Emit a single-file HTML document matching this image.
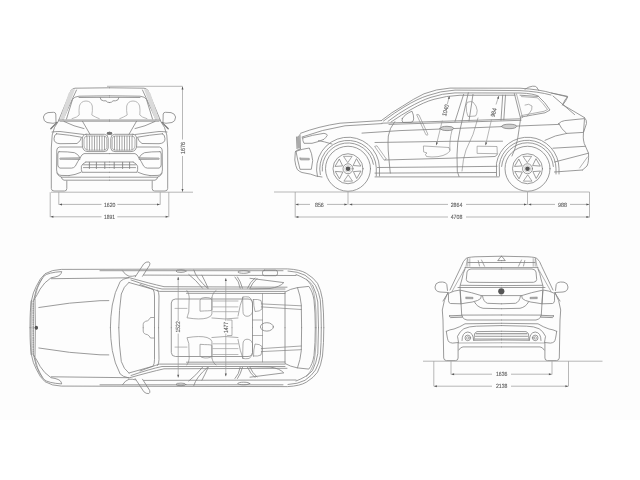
<!DOCTYPE html>
<html><head><meta charset="utf-8">
<style>
html,body{margin:0;padding:0;background:#fff;width:640px;height:480px;overflow:hidden}
svg{display:block}
.l{fill:none;stroke:#828282;stroke-width:0.8;stroke-linejoin:round;stroke-linecap:round}
.d{fill:none;stroke:#9a9a9a;stroke-width:0.7}
.t{font-family:"Liberation Sans",sans-serif;font-size:6px;fill:#555;stroke:#666;stroke-width:0.12;text-rendering:geometricPrecision}
</style></head><body>
<svg width="640" height="480" viewBox="0 0 640 480">
<defs>
<marker id="ar" markerWidth="4" markerHeight="3" refX="2.8" refY="1" orient="auto-start-reverse" markerUnits="userSpaceOnUse" overflow="visible"><path d="M0,0 L2.8,1 L0,2z" fill="#555"/></marker>
</defs>

<rect x="0" y="60" width="640" height="360" fill="#fdfdfd"/>
<!-- ===== FRONT VIEW ===== -->
<g id="frontL" class="l">
  <!-- roof + A pillar -->
  <path d="M109.5,87.8 L75,88.2 Q72,88.6 71,90.5 L58.6,120.5"/>
  <path d="M76.5,90 L63,119.5"/>
  <polygon points="68.5,93.5 71.5,89.5 75,89.2 64,119.5 59.8,119.5" fill="#dadada" stroke="none"/>
  <!-- windshield inner -->
  <path d="M109.5,95.8 L79,96.2 Q74,96.6 72.5,99.5 L66.5,119"/>
  <path d="M109.5,97.3 L79,97.5"/>
  <!-- rear view mirror -->
  <path d="M100,97.5 Q100.5,100.8 103.5,100.8 L106,100.8 Q107,102.6 109.5,102.6"/>
  <!-- cowl -->
  <path d="M59,120 L109.5,120"/>
  <path d="M60,121.2 L109.5,121.2"/>
  <!-- head -->
  <path d="M72,118.7 Q77.5,117.2 79.2,115 Q78.7,110 79.4,106 Q81,101 86,101 Q91,101 92.3,106 Q92.7,111 91.8,115 Q95,117 99.3,118.7" stroke="#a8a8a8"/>
  <!-- mirror -->
  <path d="M57.5,122.3 L56,122.5 L55.8,114 Q55.5,112.3 53.5,112.3 L48,112.6 Q44,113.5 43.4,117 Q43.5,121.5 47,122.5 L53,123.3 Q55,123 56,122.5"/>
  <path d="M50.8,128.8 L56.8,122.6" stroke-width="1.3" stroke="#777"/>
  <!-- hood lines -->
  <path d="M64,121.5 Q74,126.5 84,128.6"/>
  <path d="M82.5,121.3 L90,134.3"/>
  <!-- body side -->
  <path d="M58.8,120.5 Q53.5,127 52.2,135 L51.3,148 L51.3,188.5 Q51.5,191 54,191 L64.5,191 Q66.8,191 66.8,188.5 L66.8,181"/>
  <path d="M52,132 Q56,131.5 60,131.5 L84,134.5"/>
  <!-- headlight -->
  <path d="M56.5,133.8 Q70,135 81.5,137.2 Q81,141 77,143.5 L60,143.7 Q54,143.4 54,138.7 Q54.2,134.3 56.5,133.8 Z"/>
  <!-- kidney -->
  <path d="M86,134.3 L104.5,134.3 Q108.2,134.5 108.2,138.5 L108.2,148 Q108,151.6 104,151.6 L88,151.6 Q82.4,151.4 82.3,145 L82.3,139 Q82.5,134.5 86,134.3 Z"/>
  <path d="M86.5,136 L104,136 Q106.8,136.2 106.8,139 L106.8,147.5 Q106.6,150.2 103.5,150.2 L88.5,150.2 Q84,150 84,145 L84,139.5 Q84.2,136.2 86.5,136 Z" stroke-width="0.6"/>
  <path d="M87,136.5 V149.8 M89.5,136.3 V150 M92,136.2 V150.1 M94.5,136.2 V150.1 M97,136.2 V150.1 M99.5,136.2 V150.1 M102,136.2 V150.1 M104.5,136.4 V149.8" stroke-width="0.7"/>
  <!-- logo -->
  <ellipse cx="109.5" cy="133.3" rx="2.8" ry="1.5" fill="#777" stroke="none"/>
  <!-- bumper outer -->
  <path d="M82,147 L59.5,147 Q57,147.5 56.8,150 L56.6,170 Q57,175 61,175.4 L69,175.6"/>
  <path d="M109.5,153.6 L84,153.6 Q82,154 80,157.8"/>
  <!-- fog light -->
  <path d="M59,151.7 Q68,151.6 74.5,152.7 Q78,154 80,157.8 Q78,161 75.3,166.2 Q73.8,168 71.6,168.1 L60,168.1 Q58,167.5 57.8,165 L57.8,154 Q58,152 59,151.7 Z"/>
  <path d="M60,158.2 Q59,158.7 60,159.3 L80,159.5 L80,158 Z" fill="#bbb" stroke-width="0.6"/>
  <!-- lower grille -->
  <path d="M85.8,162 L109.5,162"/>
  <path d="M83.5,164.8 L109.5,164.8"/>
  <path d="M83.5,167.6 L109.5,167.6"/>
  <path d="M85.8,162 Q82,164 81.4,166.2 Q81,170 82,172.3 L109.5,172.3"/>
  <path d="M89.4,162.3 V168.5 M96.4,162.3 V168.5 M104.8,162.3 V168.5" stroke-width="0.9"/>
  <!-- bottom bumper -->
  <path d="M69,175.6 Q75,175 81,172.3"/>
  <path d="M56.8,173 Q58,176 61.3,177.2 L109.5,177.2"/>
  <path d="M61.3,177.2 Q61.8,179.8 64,180.2 L109.5,180.2"/>
</g>
<use href="#frontL" transform="translate(219,0) scale(-1,1)"/>


<!-- ===== SIDE VIEW ===== -->
<g class="l">
  <!-- roof -->
  <path d="M381.3,120.6 Q392,112 402.5,106.2 Q414,98.5 424,93.8 Q436,89 450,88.1 L520,88.2 Q540,89.5 551.5,93 L567.5,96.3 Q566.5,98.5 565,100 L562.5,105"/>
  <path d="M383.5,121 Q395,112.5 404,107 Q418,98.5 428,95.5 Q440,91 455,90.1 L520,90.6 Q538,91.5 551,95"/>
  <path d="M388,121.3 Q399,113 408,108 Q421,100.5 431,97.3 Q442,93.5 455,92.9 L520,93 Q534,93.5 538.8,96.3"/>
  <path d="M391,122 Q402,114.5 411,109.5 Q424,102 434,99.3 Q446,95.8 460,95.25 L515,95.2"/>
  <!-- antenna -->
  <path d="M525,89.2 Q529,86.5 532.5,86.2 Q536,86 536.5,87 L538.8,90.5"/>
  <!-- hatch glass / rear -->
  <path d="M551.3,93 L567.7,96.9 Q566,101 562.8,104.8"/>
  <path d="M553,96 L574.6,114.6 M562.8,104.8 L584.5,117.6"/>
  <path d="M584.5,117.6 Q587,120 586.5,123.5 L583.5,132.4 Q583,138 583.5,140 Q584,144 585.5,146.3 L588.5,153.2 Q589,162 587,166 L582.5,170"/>
  <!-- quarter window -->
  <path d="M520,95.2 L538.5,96.5 Q545,102 550,110 L545,112.8 Q532,115 520.5,117.2"/>
  <path d="M521.5,96.6 L537.5,97.8 Q543,103 547.5,109.5 L544,111.3 Q532,113.5 521.8,115.5" stroke-width="0.6"/>
  <!-- taillight -->
  <path d="M558.8,123.5 Q561,121 564.8,120.6 L584.5,118.6 L583.5,132.4 L566.7,133.4 Q561,129 558.8,123.5 Z"/>
  <!-- belt + crease -->
  <path d="M382,123.2 L521,118.8"/>
  <path d="M389,124.4 L521,120.3"/>
  <path d="M362,133.1 L400,130.6 L480,127.5 L558.8,124.4"/>
  <!-- hood -->
  <path d="M300.5,133.3 Q318,126.5 340,123.2 L381.3,120.6"/>
  <path d="M302,137 Q322,129.5 345,125.8 L382,123.6"/>
  <!-- front grille side -->
  <path d="M300,134.5 L300.5,148.8 M296.5,137 L297,148.7"/>
  <polygon points="296.8,137 299.8,134.8 300.2,148.6 297.2,148.6" fill="#aaa" stroke="none"/>
  <!-- headlight -->
  <path d="M302.7,138 Q312,135 324,133.3 Q327.5,134 327.3,135.3 Q326,137.5 324,139.3 Q318,142 312,143.3 L304,143.3 Q302.5,141 302.7,138 Z"/>
  <path d="M318.5,140.6 Q324,141.5 332,144"/>
  <!-- front bumper -->
  <path d="M300.5,149 Q296,150 295.3,152 L294.8,160 Q295.5,166 297.3,169.5 Q300,172 302,172.5 Q312,174 316,176 L322,177"/>
  <path d="M296,151.3 Q302,149 309.3,148 Q312,153 312.7,160.7 L311.3,169.3 L300,169.3 Q297.5,160 296,151.3 Z"/>
  <path d="M300,158 L309.3,158.3 L309.3,160 L300.5,160 Q299.5,159 300,158 Z" fill="#bbb" stroke-width="0.5"/>
  <!-- front arches -->
  <path d="M317.44,176.37 A31.50,31.50 0 1 1 379.48,167.65 L379.48,176"/>
  <path d="M320.32,174.63 A28.30,28.30 0 1 1 376.28,167.76 L376.28,176"/>
  <path d="M322.30,171.00 A25.80,25.80 0 0 1 373.41,164.27"/>
  <!-- front wheel -->
  <circle cx="348" cy="168.75" r="22.5"/>
  <circle cx="348" cy="168.75" r="15"/>
  <circle cx="348" cy="168.75" r="5"/>
  <circle cx="348" cy="168.75" r="3.3" stroke="#bbb" stroke-width="0.6"/>
  <circle cx="348" cy="168.75" r="2.3" fill="#555" stroke="none"/>
  <g transform="translate(348,168.75)" stroke-width="0.7">
    <path id="tri" d="M-4.1,-12.4 L4.1,-12.4 L0,-6.4 Z"/>
    <path d="M-4.1,-12.4 L4.1,-12.4 L0,-6.4 Z" transform="rotate(60)"/>
    <path d="M-4.1,-12.4 L4.1,-12.4 L0,-6.4 Z" transform="rotate(120)"/>
    <path d="M-4.1,-12.4 L4.1,-12.4 L0,-6.4 Z" transform="rotate(180)"/>
    <path d="M-4.1,-12.4 L4.1,-12.4 L0,-6.4 Z" transform="rotate(240)"/>
    <path d="M-4.1,-12.4 L4.1,-12.4 L0,-6.4 Z" transform="rotate(300)"/>
  </g>
  <!-- rear arches -->
  <path d="M496.5,176 L496.48,163.28 A31.50,31.50 0 0 1 559.00,168.75 L559.00,174"/>
  <path d="M499.5,176 L499.28,164.78 A28.50,28.50 0 0 1 556.00,168.75 L556.00,174"/>
  <path d="M501.60,166.48 A26.00,26.00 0 0 1 553.40,166.48"/>
  <!-- rear wheel -->
  <circle cx="527.5" cy="168.75" r="22.5"/>
  <circle cx="527.5" cy="168.75" r="15"/>
  <circle cx="527.5" cy="168.75" r="5"/>
  <circle cx="527.5" cy="168.75" r="3.3" stroke="#bbb" stroke-width="0.6"/>
  <circle cx="527.5" cy="168.75" r="2.3" fill="#555" stroke="none"/>
  <g transform="translate(527.5,168.75)" stroke-width="0.7">
    <path d="M-4.1,-12.4 L4.1,-12.4 L0,-6.4 Z"/>
    <path d="M-4.1,-12.4 L4.1,-12.4 L0,-6.4 Z" transform="rotate(60)"/>
    <path d="M-4.1,-12.4 L4.1,-12.4 L0,-6.4 Z" transform="rotate(120)"/>
    <path d="M-4.1,-12.4 L4.1,-12.4 L0,-6.4 Z" transform="rotate(180)"/>
    <path d="M-4.1,-12.4 L4.1,-12.4 L0,-6.4 Z" transform="rotate(240)"/>
    <path d="M-4.1,-12.4 L4.1,-12.4 L0,-6.4 Z" transform="rotate(300)"/>
  </g>
  <!-- rear body + bumper -->
  <path d="M545,140.3 Q555,135 566.7,133.4"/>
  <path d="M552.9,148.2 L585.5,146.3"/>
  <path d="M554.5,162 L588.5,153.2"/>
  <path d="M554.4,172 L582.5,170"/>
  <path d="M579.6,168 L587.5,157" stroke-width="0.6"/>
  <!-- door edges -->
  <path d="M394.8,121.6 Q389.5,128 388.3,136 Q387.8,142 388.2,150 L389.2,162 L390.3,173.1"/>
  <path d="M468.3,92.8 L460,130 Q457,142 457,155 L457.3,171.3 L459,176.5"/>
  <path d="M463.6,94.4 L455,121.5 M473,94.4 L469,121"/>
  <path d="M502.7,95.2 L501,120.2 M505.5,95.2 L503.8,119.8"/>
  <path d="M514.4,93.6 L520.6,118.6 Q519,130 517.5,139.7 Q515,150 512,156"/>
  <path d="M516.5,94 L522.5,117.5" stroke-width="0.6"/>
  <!-- body lines -->
  <path d="M375,142.5 L450,141.3 L502.5,141.2"/>
  <path d="M385,160 L450,158.2 L495,156.5 Q497,155.5 497.5,154"/>
  <path d="M377.5,167.5 L450,166.9 L497,166.3"/>
  <path d="M375,173.1 L496,172.5"/>
  <path d="M375,176.9 L499,176.9"/>
  <!-- fender vent -->
  <path d="M375,146.3 L377,145.8 L386.3,159 L384.5,160 Z" stroke-width="0.6"/>
  <!-- mirror -->
  <path d="M402.3,118.5 Q405,114 412,111.2 Q413.8,115 413.7,119 Q413.5,122 411,122.4 L403,122.4 Q401.4,121 402.3,118.5 Z"/>
  <!-- handles -->
  <path d="M440,128.3 Q441,126.3 447,126.3 Q453,126.3 453.8,128.3 Q453,130.6 447,130.6 Q441,130.6 440,128.3 Z" fill="#cfcfcf"/>
  <path d="M501.5,126.3 Q502.5,124.2 509,124.2 Q516,124.2 516.7,126.3 Q516,128.7 509,128.7 Q502.5,128.7 501.5,126.3 Z" fill="#cfcfcf"/>
  <!-- steering -->
  <path d="M417,114.5 Q418,114 419,115 L428,134.5 Q427.5,135.6 426.3,135 Z" stroke-width="0.6"/>
  <!-- seats -->
  <path d="M423.8,146 L449,147.5 L450,151 Q445,157 432,157 L426.5,156.5 Q424,154 427,153 L424,152 Z" stroke-width="0.6"/>
  <path d="M477.5,146.2 L497,146.5 L497.3,153.7 L477.5,153.4 Z" stroke-width="0.6"/>
  <path d="M467.5,102.2 Q471,101 473,102 Q477,106 477.2,110.5 Q477,114.5 475.5,116 L468,116.5 Q466,112 466.2,106 Z" stroke-width="0.6"/>
  <path d="M452,130 Q449,142 450,150 M478,118 Q474,135 466,150 Q463,158 462,171" stroke-width="0.6"/>
  <path d="M525,105 Q529,103 532,106 Q532.5,110 529.5,113 L527,116" stroke-width="0.6"/>
</g>
<!-- side interior dims -->
<g class="d">
  <path d="M449.5,96 L447.3,104" marker-start="url(#ar)"/><path d="M442.3,120.5 L436.3,145.2" marker-end="url(#ar)"/>
  <path d="M498.8,96 L496,104.5" marker-start="url(#ar)"/><path d="M491.5,119.5 L485.6,145.2" marker-end="url(#ar)"/>
</g>


<!-- ===== TOP VIEW ===== -->
<g id="topH" class="l">
  <!-- outer outline -->
  <path d="M30,327.75 L30.1,318 Q30.5,306 31.3,301.3 Q33,292 36.3,286.3 Q40,278 45,273.8 Q52,269.6 61.3,269.4 L287.5,268.9 Q300,269.5 306.3,273.3 Q314,278 317.5,283.3 Q321,290 322.5,299.5 Q323.8,312 323.8,327.75"/>
  <path d="M288,271 Q298,271.5 305,275.2 Q312,280 315.5,285.5 Q319,292 320.3,300 Q321.3,312 321.3,327.75"/>
  <path d="M296,274.5 Q307,278.5 312.5,285 Q316.5,293 317.8,302 L318.5,327.75"/>
  <path d="M306.5,279 Q311,284 313.5,291 Q315.5,300 316,312 L316.2,327.75" stroke-width="0.6"/>
  <path d="M100,270.7 L283,270.7"/>
  <!-- headlight sliver -->
  <path d="M61.3,271.6 Q48,272.5 44,276 Q38.5,283 36.2,290 L33.6,300.5 Q37.5,294.5 40.2,289 Q44,282.5 51,277.8 Q60,276.5 61,273.8 Z"/>
  <path d="M42,278.5 Q37,287 35,297" stroke-width="0.6"/>
  <!-- hood edge -->
  <path d="M51.3,278.7 L128.7,277.8"/>
  <!-- grille strip -->
  <path d="M31.2,301 L31,327.75"/>
  <path d="M35,299 L35.4,327.75"/>
  <path d="M33.2,301 L33.2,327.75" stroke-dasharray="1.1,1.2" stroke-width="1.3" stroke="#888"/>
  <!-- hood crease -->
  <path d="M38.8,307.5 Q70,302.2 100,300.7 L108.8,300.6"/>
  <!-- windshield -->
  <path d="M128.7,277.6 Q122.5,278.8 120.2,281.5 Q114.5,292 112.3,305 Q110.4,317 110.4,327.75"/>
  <path d="M129,282.3 Q123.5,286.5 121.3,294 Q119,310 118.8,327.75"/>
  <path d="M129,282.5 L153,289.3 Q154.5,291.5 154.5,296 L154.5,327.75"/>
  <path d="M157.5,290 Q159,292 159,296 L158.6,327.75"/>
  <!-- roof frame -->
  <path d="M129,277.6 Q150,283.5 164,286.7 L287,287.2"/>
  <path d="M131,280 Q150,286.5 162,289 L285,289"/>
  <path d="M140,284.5 Q152,289 159.4,291.4 L285,291.4"/>
  <path d="M186.5,293.3 L285,293.5"/>
  <!-- mirror -->
  <path d="M135.2,276.9 L143.8,263.8 Q146,261.6 148.8,261.9 Q150.6,263 149.6,265.2 L142.5,276.3"/>
  <path d="M122.5,270.8 Q125.5,275.3 129,276.2 Q132,276.6 135.5,275.7"/>
  <!-- roof rail -->
  <path d="M143.8,275.1 L296,275.5"/>
  <!-- pillars -->
  <path d="M188.8,274.5 Q196,280 202.5,288.2"/>
  <path d="M193.8,270 Q196,278 207.5,288.2"/>
  <path d="M201.9,275.2 Q205,281 208.2,288.2"/>
  <path d="M235,277 Q239,281 240.2,288.2 M237.5,277 Q240.5,281 242.5,288.2"/>
  <path d="M255,278 Q250,282 247.5,288.2 M257,278.5 Q252,283 250,288.2"/>
  <!-- handles -->
  <ellipse cx="181" cy="271.1" rx="5" ry="1.3"/>
  <ellipse cx="243.8" cy="272" rx="6" ry="1.3"/>
  <!-- rear quarter window -->
  <path d="M250,278.3 L283.8,282.6 Q280,287 270,288.5 L250,288.9"/>
  <!-- hatch glass -->
  <path d="M285,327.75 L285,292 Q290,289 297.5,287.6 L308.8,286.4 Q312.5,291 314,300 Q315.3,312 315.3,327.75"/>
  <path d="M297.5,287.6 Q300.5,296 301.3,305 L301.6,327.75"/>
  <path d="M261.3,303.9 L301.3,305.8 M261.3,306.9 L301.3,309.5" stroke-width="0.7"/>
  <!-- sunroof -->
  <path d="M171.3,327.75 L171.3,303 Q171.5,299 175.5,299 L248,299 Q252.3,299.2 252.5,303 L252.5,327.75"/>
  <path d="M262.5,293.6 L262.5,327.75" stroke-width="0.6"/>
  <!-- front seat -->
  <path d="M186.9,290.5 Q189,293 189.2,297 L188.8,312 Q187.5,316 187,317.8 Q200,320 207,318 Q211.7,316.5 211.9,314 L211.9,297.5" stroke-width="0.65"/>
  <path d="M200,310.8 L200,300 Q200.5,297.6 205,297.5 Q211.5,297.4 211.9,300 L211.9,310 Q211.5,310.9 205,310.9 Z" stroke-width="0.65"/>
  <path d="M175,308.4 L187,308.4 M213,301 L238,301 M213,306.9 L238,306.9 M213,311.7 L238,311.7" stroke-width="0.55"/>
  <!-- rear seat headrests -->
  <path d="M243,297 Q245.5,296.5 249,297 Q252.5,299 252.5,303 L252.5,312 Q251,316.3 247,316.3 Q243,316 243,312 Z" stroke-width="0.65"/>
  <path d="M253.5,299.5 Q258,299 261,300.5 Q262.5,305 262,309 Q260,311.5 255,311.5 Q253.5,306 253.5,299.5 Z" stroke-width="0.65"/>
  <path d="M211.9,297.5 Q213,292 216,290.6 M238,316 Q240,304 243,297" stroke-width="0.65"/>
  <path d="M211.9,318 Q225,320 238,318" stroke-width="0.65"/>
  <!-- center console -->
  <path d="M227.5,320 L232,320 L232,327.75" stroke-width="0.6"/>
  <path d="M252.5,320 L262.5,320" stroke-width="0.6"/>
  <!-- interior mirror knob -->
  <path d="M153.8,317.5 L150.5,317.5 Q149.2,320 147.5,320.8 Q143.2,321.5 143.2,324.5 L143.2,327.75" stroke-width="0.7"/>
  <!-- logo -->
  <ellipse cx="36.3" cy="327.5" rx="1.6" ry="1.8" fill="#555" stroke="none"/>
</g>
<use href="#topH" transform="translate(0,655.5) scale(1,-1)"/>
<g class="l">
  <ellipse cx="266.9" cy="326.9" rx="6.5" ry="4.2"/>
  <rect x="262.5" y="270.2" width="15" height="5.5" rx="2"/>
</g>
<g class="d">
  <path d="M178.2,277 V321" marker-start="url(#ar)"/><path d="M178.2,333.5 V377.5" marker-end="url(#ar)"/>
  <path d="M225.8,278.3 V321" marker-start="url(#ar)"/><path d="M225.8,333.5 V376.2" marker-end="url(#ar)"/>
</g>


<!-- ===== REAR VIEW ===== -->
<g id="rearL" class="l">
  <!-- spoiler / roof -->
  <path d="M501.5,256.2 L475,256.8 Q467.5,257.3 466.3,258.2 Q463,261 461.3,266.3 L450,290"/>
  <path d="M467.5,258.5 L466,266.5 L452,291.5" stroke-width="0.6"/>
  <path d="M468,262.5 L501.5,262.5"/>
  <path d="M465,267.6 L501.5,267.6"/>
  <path d="M478.2,260.5 L479.5,266 M481.5,260 L484.5,266.2" stroke-width="0.7"/>
  <path d="M467.8,258.8 L467.8,266.2 M469.8,258.6 L469.8,266.2" stroke-width="0.6"/>
  <path d="M498,260.6 Q500,256.5 501.5,256.3 M498,260.6 L501.5,260.6" stroke-width="0.8"/>
  <!-- rear window -->
  <path d="M501.5,269 L471,269 Q467.5,269.3 467,272 L466.3,279.5 Q466.5,282 469.5,282.3 L501.5,282.5"/>
  <!-- pillar inner -->
  <path d="M465,269 Q463,273 462,279 L460,286 L461.8,316.5"/>
  <!-- tailgate top -->
  <path d="M460.6,285.3 L501.5,285.6"/>
  <path d="M458,287.5 L501.5,287.5"/>
  <!-- mirror -->
  <path d="M447.5,290.5 L446.8,284.5 Q446,282 442.5,282 L439,282.2 Q435.2,283 435,287 Q435.2,291.5 440,292 L448,292.5"/>
  <path d="M443,301 L448,293"/>
  <!-- taillight -->
  <path d="M448.8,293.2 Q454,290.5 460,290 L461,303.8 L450.5,303.5 Q448.5,303 448.5,301 Z"/>
  <path d="M461,290.3 Q472,292.5 481.3,295.6 Q482,299 477.5,300.5 Q472,302.5 467,302.8 L461.2,303.8"/>
  <path d="M466,297 L473,297.3 L473,298.8 L466,298.7 Z" fill="#aaa" stroke-width="0.5"/>
  <!-- plate recess -->
  <path d="M481.3,295.6 L501.5,295.6"/>
  <path d="M482.5,296 Q483.5,302 487.5,303.3 L501.5,303.8"/>
  <path d="M474.5,302 Q477,307 483,308.3 L501.5,308.7"/>
  <!-- reflector band -->
  <path d="M462,315.1 L501.5,315"/>
  <path d="M449.6,315.8 L462,315.3 L462.5,317.2 L450.5,317.6 Q449,317 449.6,315.8 Z" fill="#e4e4e4"/>
  <path d="M462.5,317.3 Q464,319.5 467,320 L501.5,320"/>
  <!-- body side + tyre -->
  <path d="M448,292.5 Q443.5,300 442.3,310 L443,320 L443.7,358 Q444,360.6 446.5,360.6 L455.5,360.6 Q458.1,360.6 458.1,358 L458.1,342.5"/>
  <!-- bumper -->
  <path d="M446.3,331.3 Q450,329.5 454,329 Q460,327 465,323.8 L501.5,323.3"/>
  <path d="M446.3,331.3 Q447.5,340 448.5,341.5 Q450.5,343 452.5,343.1 L458.5,342.5 Q458,339 457.5,336.3 Q460,331 463.8,328.8 Q469,326.3 476.3,326.2 L501.5,325.6"/>
  <!-- exhaust -->
  <circle cx="467.8" cy="337.9" r="2.8"/>
  <circle cx="467.8" cy="337.9" r="1.3" stroke-width="0.6"/>
  <path d="M462,340.5 Q462,332.5 467.8,332 Q473.5,332.5 473.6,340.5"/>
  <!-- diffuser -->
  <path d="M501.5,331.3 L477,331.6 Q475,332.5 474.5,334 L474,340.3 L501.5,340"/>
  <path d="M476,333.8 L501.5,333.8" stroke-width="1.1"/>
  <path d="M475.5,336.3 L501.5,336.3"/>
  <path d="M475,339 L501.5,339"/>
  <path d="M458.5,343 L501.5,342.8" stroke-width="0.6"/>
  <path d="M458.8,350 Q460.5,347 463,346.9 L501.5,346.9"/>
</g>
<use href="#rearL" transform="translate(1003,0) scale(-1,1)"/>
<ellipse cx="501.3" cy="291.3" rx="3.1" ry="3.1" fill="#555"/>

<!-- front dims -->
<g class="d">
  <path d="M107,86.3 L182.5,86.3"/>
  <path d="M182.5,86.6 V139.5" marker-start="url(#ar)"/><path d="M182.5,156 V191.8" marker-end="url(#ar)"/>
  <path d="M51,192.2 L193,192.2"/>
  <path d="M50.2,192.2 V217.2 M58.8,192.2 V204.8 M160.2,192.2 V204.8 M168.8,192.2 V217.2"/>
  <path d="M59.2,204.4 H101.5" marker-start="url(#ar)"/><path d="M117.3,204.4 H159.8" marker-end="url(#ar)"/>
  <path d="M50.6,216.8 H101.5" marker-start="url(#ar)"/><path d="M117.3,216.8 H168.4" marker-end="url(#ar)"/>
</g>

<!-- side dims -->
<g class="d">
  <path d="M274,192 L589.5,192"/>
  <path d="M295.2,192 V217.5 M348,192 V205 M527.5,192 V205 M589.5,192 V217.5"/>
  <path d="M295.6,204.4 H310" marker-start="url(#ar)"/><path d="M327,204.4 H347.2" marker-end="url(#ar)"/>
  <path d="M349.4,204.4 H448" marker-start="url(#ar)"/><path d="M466,204.4 H526.8" marker-end="url(#ar)"/>
  <path d="M528.4,204.4 H555" marker-start="url(#ar)"/><path d="M570,204.4 H589.2" marker-end="url(#ar)"/>
  <path d="M295.6,217 H448" marker-start="url(#ar)"/><path d="M466,217 H589.2" marker-end="url(#ar)"/>
</g>

<!-- rear dims -->
<g class="d">
  <path d="M423,361.2 L602.5,361.2"/>
  <path d="M433.8,361.2 V386.3 M451,361.2 V374.5 M552,361.2 V374.5 M568.5,361.2 V386.3"/>
  <path d="M451.3,374.2 H492" marker-start="url(#ar)"/><path d="M511,374.2 H551.7" marker-end="url(#ar)"/>
  <path d="M434.1,386.2 H492" marker-start="url(#ar)"/><path d="M511,386.2 H568.2" marker-end="url(#ar)"/>
</g>

<g id="labels" opacity="0.99">
<text class="t" x="109.75" y="206.5" text-anchor="middle" textLength="11.5" lengthAdjust="spacingAndGlyphs">1620</text>
<text class="t" x="109.5" y="218.9" text-anchor="middle" textLength="11.2" lengthAdjust="spacingAndGlyphs">1891</text>
<text class="t" transform="translate(184.6,148) rotate(-90)" text-anchor="middle" textLength="11.8" lengthAdjust="spacingAndGlyphs">1676</text>
<text class="t" x="319.4" y="206.5" text-anchor="middle" textLength="8.9" lengthAdjust="spacingAndGlyphs">856</text>
<text class="t" x="456.5" y="206.5" text-anchor="middle" textLength="11.7" lengthAdjust="spacingAndGlyphs">2864</text>
<text class="t" x="562.5" y="206.5" text-anchor="middle" textLength="9" lengthAdjust="spacingAndGlyphs">988</text>
<text class="t" x="456.5" y="219.1" text-anchor="middle" textLength="11.7" lengthAdjust="spacingAndGlyphs">4708</text>
<text class="t" x="501.75" y="376.3" text-anchor="middle" textLength="11.5" lengthAdjust="spacingAndGlyphs">1636</text>
<text class="t" x="501.75" y="388.3" text-anchor="middle" textLength="11.5" lengthAdjust="spacingAndGlyphs">2138</text>
<text class="t" transform="translate(180.3,326.9) rotate(-90)" text-anchor="middle" textLength="11.2" lengthAdjust="spacingAndGlyphs">1522</text>
<text class="t" transform="translate(227.9,327.5) rotate(-90)" text-anchor="middle" textLength="11.2" lengthAdjust="spacingAndGlyphs">1477</text>
<text class="t" transform="translate(447.5,110.8) rotate(-75)" text-anchor="middle" textLength="12" lengthAdjust="spacingAndGlyphs">1040</text>
<text class="t" transform="translate(495.7,113) rotate(-75)" text-anchor="middle" textLength="9" lengthAdjust="spacingAndGlyphs">984</text>
</g>
</svg>
</body></html>
